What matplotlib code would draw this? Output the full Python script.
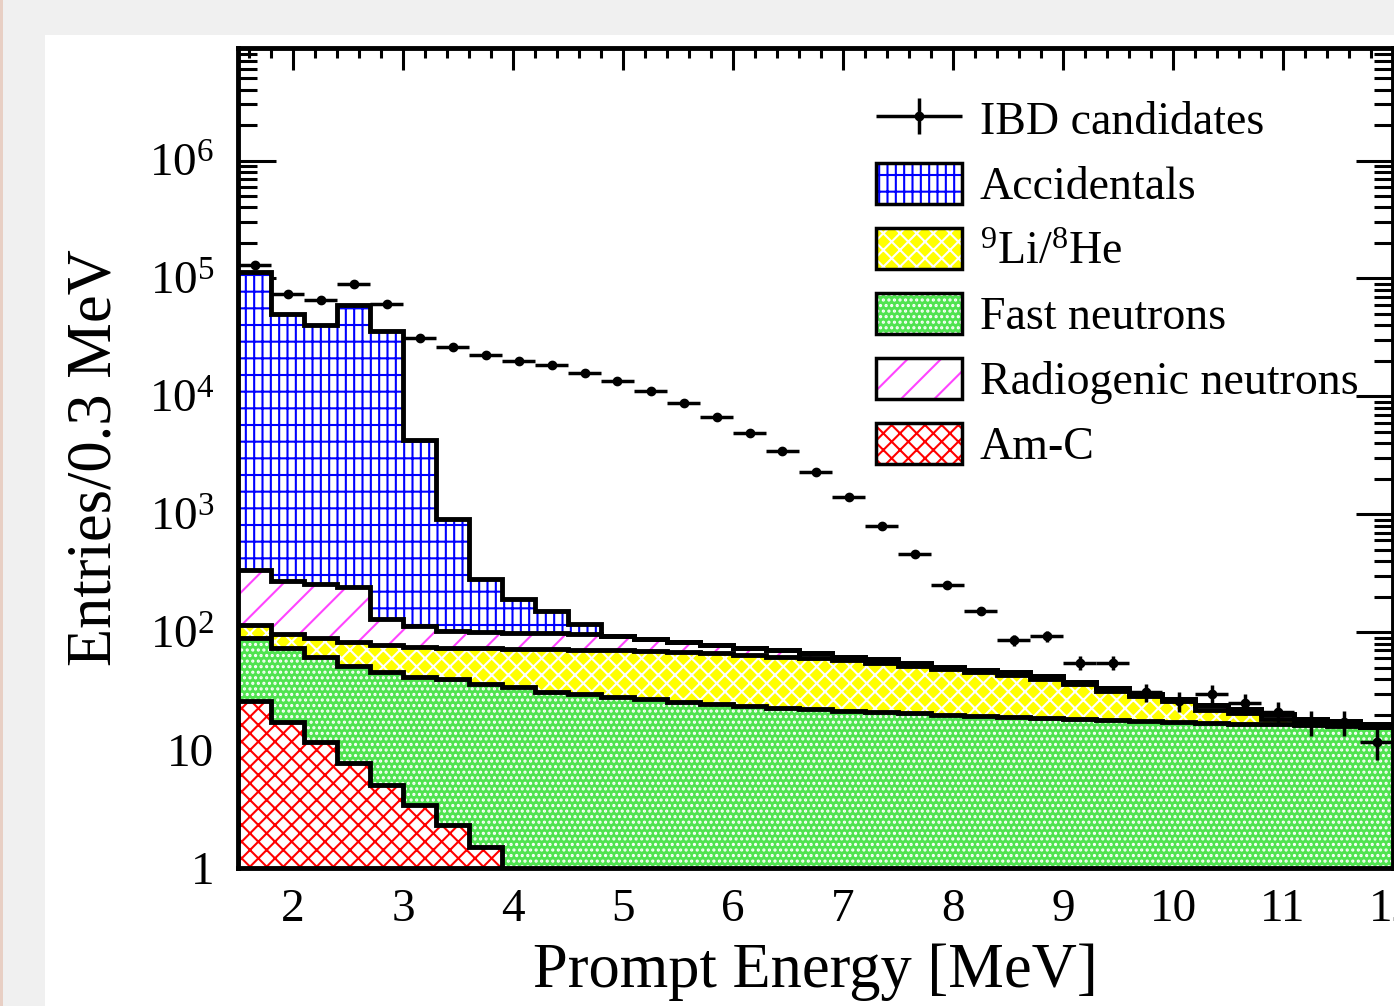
import numpy as np
import matplotlib
matplotlib.use("Agg")
import matplotlib.pyplot as plt
from matplotlib.patches import Patch, Rectangle
from matplotlib.legend_handler import HandlerTuple, HandlerErrorbar
from matplotlib.ticker import MultipleLocator, LogLocator, FixedLocator, FuncFormatter, NullFormatter

plt.rcParams['font.family'] = ['Liberation Serif', 'DejaVu Serif']
plt.rcParams['mathtext.fontset'] = 'custom'
plt.rcParams['mathtext.rm'] = 'Liberation Serif'
plt.rcParams['mathtext.it'] = 'Liberation Serif:italic'
plt.rcParams['hatch.linewidth'] = 1.5

# 0.3 MeV bins from 1.5 to 12 MeV
edges = np.round(np.arange(1.5, 12.01, 0.3), 2)
centers = (edges[:-1] + edges[1:]) / 2

# IBD candidates (entries per bin)
ibd = [1.29e5, 7.4e4, 6.6e4, 8.9e4, 6.1e4, 3.1e4, 2.6e4, 2.26e4, 2.0e4, 1.83e4,
       1.57e4, 1.34e4, 1.11e4, 8.8e3, 6.7e3, 4.85e3, 3.43e3, 2.27e3, 1.41e3, 800,
       464, 251, 151, 86, 92, 55, 55, 31, 26, 30,
       25, 21, 17.3, 17.3, 11.7]

# background components (stacked bottom -> top)
amc = [26, 17.4, 11.8, 7.8, 5.1, 3.4, 2.3, 1.5, 0, 0,
       0, 0, 0, 0, 0, 0, 0, 0, 0, 0,
       0, 0, 0, 0, 0, 0, 0, 0, 0, 0,
       0, 0, 0, 0, 0]
fast_n = [64, 56.6, 49.2, 44.2, 40.9, 38.6, 37.7, 34.5, 34, 31,
          30, 28, 27, 25.8, 24.5, 23.6, 22.9, 22.3, 21.6, 21,
          20.5, 20, 19.6, 19.2, 18.8, 18.4, 18, 17.7, 17.4, 17.1,
          16.8, 16.5, 16.2, 15.9, 15.6]
li_he = [25, 23, 28, 30, 32, 33, 34, 37, 38, 41,
         41, 42, 42, 42.2, 41.5, 40.4, 39.1, 37.7, 36.4, 34,
         31.5, 29, 26.4, 23.8, 21.2, 17.6, 14, 11.3, 8.6, 4.9,
         3.7, 1.7, 0.6, 0.4, 0.2]
radio = [225, 173, 166, 158, 51, 38, 28, 27, 27, 26,
         26, 23, 19, 14, 12, 9, 9, 6, 4, 4,
         3, 2, 2, 2.5, 2.5, 2, 1.5, 1, 1, 2,
         2, 2, 1.5, 1.2, 0.8]
accid = [1.12e5, 4.97e4, 3.97e4, 5.98e4, 3.55e4, 4190, 808, 183, 91, 53,
         20, 0, 0, 0, 0, 0, 0, 0, 0, 0,
         0, 0, 0, 0, 0, 0, 0, 0, 0, 0,
         0, 0, 0, 0, 0]

c1 = np.array(amc)
c2 = c1 + np.array(fast_n)
c3 = c2 + np.array(li_he)
c4 = c3 + np.array(radio)
c5 = c4 + np.array(accid)

GREEN = '#50e350'

fig = plt.figure(figsize=(13.94, 10.06), dpi=100, facecolor='#f0f0f0')
fig.add_artist(Rectangle((45/1394, 0), 1, (1006-35)/1006, transform=fig.transFigure,
                         facecolor='white', edgecolor='none', zorder=-5))
fig.add_artist(Rectangle((0, 0), 3/1394, 1, transform=fig.transFigure,
                         facecolor='#e8cfc4', edgecolor='none', zorder=-4))

ax = fig.add_axes([238/1394, (1006-868)/1006, 1155/1394, 820/1006])
ax.set_yscale('log')

low = 0.1
styles = [
    # top, bottom, face, hatch colour, hatch
    (c5, c4, 'white', '#0000ff', '|+'),
    (c4, c3, 'white', '#ff44ff', '/'),
    (c3, c2, '#ffff00', 'white', 'xx'),
    (c2, c1, GREEN, 'white', '...'),
    (c1, None, 'white', '#ff0000', 'xx'),
]
for top, bot, fc, hc, h in styles:
    base = low if bot is None else np.maximum(bot, low)
    ax.stairs(np.maximum(top, low), edges, baseline=base, fill=True,
              facecolor=fc, edgecolor=hc, hatch=h, linewidth=0, zorder=2)
for top in [c1, c2, c3, c4, c5]:
    ax.stairs(np.maximum(top, 1e-3), edges, baseline=None, color='black',
              linewidth=3.5, zorder=3)

ibd_arr = np.array(ibd)
eb = ax.errorbar(centers, ibd_arr, xerr=0.15, yerr=np.sqrt(ibd_arr), fmt='o',
                 color='black', ms=6, elinewidth=2.5, capsize=0, zorder=10)

ax.set_xlim(1.5, 12)
ax.set_ylim(1, 9e6)

ax.xaxis.set_major_locator(MultipleLocator(1))
ax.xaxis.set_minor_locator(MultipleLocator(0.2))
ax.yaxis.set_major_locator(FixedLocator([1, 10, 1e2, 1e3, 1e4, 1e5, 1e6]))
ax.yaxis.set_minor_locator(LogLocator(base=10, subs=np.arange(2, 10), numticks=20))
ax.yaxis.set_minor_formatter(NullFormatter())


def ylab(v, pos):
    if v == 1:
        return '1'
    if v == 10:
        return '10'
    return r'$10^{%d}$' % int(round(np.log10(v)))


ax.yaxis.set_major_formatter(FuncFormatter(ylab))

ax.tick_params(axis='both', which='both', direction='in', top=True, right=True,
               width=2.2, labelsize=34)
ax.tick_params(axis='x', which='major', length=16, pad=15)
ax.tick_params(axis='x', which='minor', length=7)
ax.tick_params(axis='y', which='major', length=27, pad=17)
ax.tick_params(axis='y', which='minor', length=14)
for s in ax.spines.values():
    s.set_linewidth(3.5)
    s.set_zorder(12)

ax.set_xlabel('Prompt Energy [MeV]', fontsize=45)
ax.set_ylabel('Entries/0.3 MeV', fontsize=45)
ax.xaxis.set_label_coords(0.5, -0.092)
ax.yaxis.set_label_coords(-0.098, 0.5)

def box(fc, hc, h):
    return (Patch(facecolor=fc, edgecolor=hc, hatch=h, linewidth=0),
            Patch(facecolor='none', edgecolor='black', linewidth=2.5))

handles = [eb,
           box('white', '#0000ff', '|+'),
           box('#ffff00', 'white', 'xx'),
           box(GREEN, 'white', '...'),
           box('white', '#ff44ff', '/'),
           box('white', '#ff0000', 'xx')]
labels = ['IBD candidates', 'Accidentals', r'$^{9}$Li/$^{8}$He', 'Fast neutrons',
          'Radiogenic neutrons', 'Am-C']
ax.legend(handles, labels, loc='upper left', bbox_to_anchor=(0.552, 0.939),
          frameon=False, fontsize=33, handlelength=1.88, handleheight=1.0,
          labelspacing=0.41, handletextpad=0.39, borderpad=0, borderaxespad=0,
          handler_map={tuple: HandlerTuple(ndivide=1),
                       type(eb): HandlerErrorbar(xerr_size=0.94, yerr_size=0.4)})

fig.savefig('out.png', dpi=100, facecolor=fig.get_facecolor())
